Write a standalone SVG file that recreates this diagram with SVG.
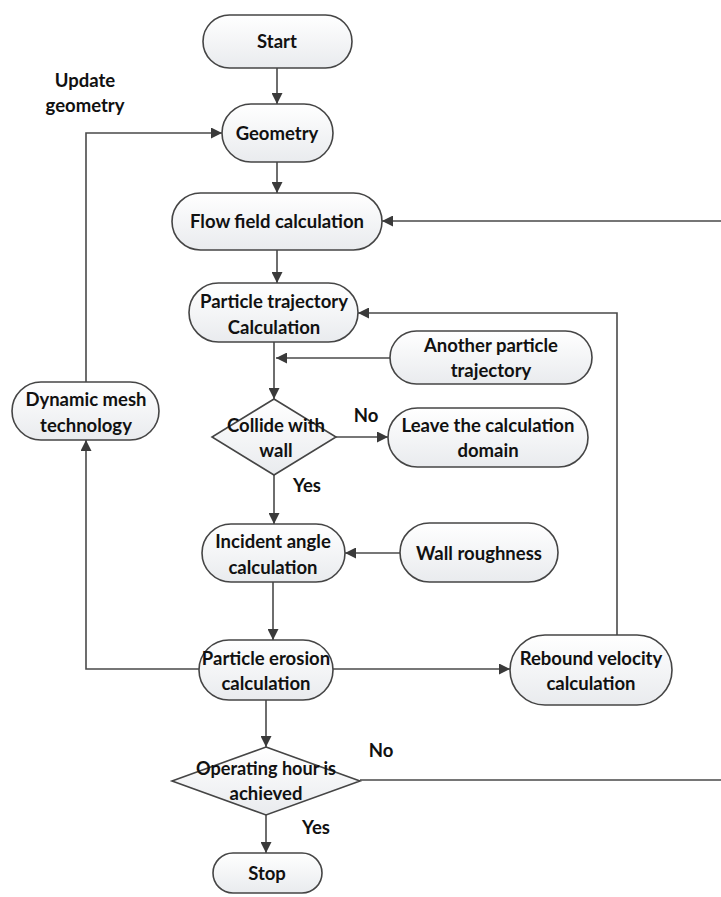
<svg xmlns="http://www.w3.org/2000/svg" width="721" height="897" viewBox="0 0 721 897">
<defs>
<linearGradient id="g" x1="0" y1="0" x2="0" y2="1">
<stop offset="0" stop-color="#ffffff"/>
<stop offset="1" stop-color="#e9ebee"/>
</linearGradient>
<marker id="ah" viewBox="0 0 10 10" refX="10" refY="5" markerWidth="11" markerHeight="11" markerUnits="userSpaceOnUse" orient="auto">
<path d="M0,0 L10,5 L0,10 z" fill="#3a3a3a"/>
</marker>
<style>
.n{fill:url(#g);stroke:#454545;stroke-width:1.6}
.t{font-family:Lato,"Open Sans","Liberation Sans",sans-serif;font-weight:bold;font-size:18.5px;fill:#111;text-anchor:middle}
.c{fill:none;stroke:#4a4a4a;stroke-width:1.6}
.a{marker-end:url(#ah)}
</style>
</defs>
<rect width="721" height="897" fill="#ffffff"/>
<g id="connectors">
<path class="c a" d="M277,68 V104"/>
<path class="c a" d="M277,162 V193"/>
<path class="c a" d="M277,250 V283"/>
<path class="c a" d="M274,342 V399"/>
<path class="c a" d="M390,358 H276"/>
<path class="c a" d="M336,437 H388"/>
<path class="c a" d="M274,475 V524"/>
<path class="c a" d="M400,553 H345"/>
<path class="c a" d="M273,582 V640"/>
<path class="c a" d="M333,669 H510"/>
<path class="c a" d="M617,635 V313 H358"/>
<path class="c a" d="M199,669 H86 V440"/>
<path class="c a" d="M86,382 V133 H222"/>
<path class="c a" d="M266,700 V747"/>
<path class="c a" d="M266,815 V853"/>
<path class="c a" d="M360,780 H723 V221 H382"/>
</g>
<g id="label-update">
<text class="t" x="85" y="87">Update</text>
<text class="t" x="85" y="112">geometry</text>
</g>
<g id="label-no1"><text class="t" x="366" y="422">No</text></g>
<g id="label-yes1"><text class="t" x="307" y="492">Yes</text></g>
<g id="label-no2"><text class="t" x="381" y="757">No</text></g>
<g id="label-yes2"><text class="t" x="316" y="834">Yes</text></g>
<g id="start">
<rect class="n" x="203" y="15" width="149" height="53" rx="26.5"/>
<text class="t" x="277" y="48">Start</text>
</g>
<g id="geometry">
<rect class="n" x="222" y="104" width="111" height="58" rx="29"/>
<text class="t" x="277" y="140">Geometry</text>
</g>
<g id="flow">
<rect class="n" x="172" y="193" width="210" height="57" rx="28.5"/>
<text class="t" x="277" y="228">Flow field calculation</text>
</g>
<g id="trajectory">
<rect class="n" x="189" y="283" width="169" height="59" rx="29.5"/>
<text class="t" x="274" y="308">Particle trajectory</text>
<text class="t" x="274" y="334">Calculation</text>
</g>
<g id="another">
<rect class="n" x="390" y="331" width="202" height="53" rx="26.5"/>
<text class="t" x="491" y="352">Another particle</text>
<text class="t" x="491" y="377">trajectory</text>
</g>
<g id="dynamic">
<rect class="n" x="12" y="382" width="147" height="58" rx="29"/>
<text class="t" x="86" y="406">Dynamic mesh</text>
<text class="t" x="86" y="432">technology</text>
</g>
<g id="collide">
<polygon class="n" points="274,399 336,437 274,475 212,437"/>
<text class="t" x="276" y="432">Collide with</text>
<text class="t" x="276" y="457">wall</text>
</g>
<g id="leave">
<rect class="n" x="388" y="408" width="200" height="59" rx="29.5"/>
<text class="t" x="488" y="432">Leave the calculation</text>
<text class="t" x="488" y="457">domain</text>
</g>
<g id="incident">
<rect class="n" x="202" y="524" width="143" height="58" rx="29"/>
<text class="t" x="273" y="548">Incident angle</text>
<text class="t" x="273" y="574">calculation</text>
</g>
<g id="roughness">
<rect class="n" x="400" y="523" width="158" height="59" rx="29.5"/>
<text class="t" x="479" y="560">Wall roughness</text>
</g>
<g id="erosion">
<rect class="n" x="199" y="640" width="134" height="60" rx="30"/>
<text class="t" x="266" y="665">Particle erosion</text>
<text class="t" x="266" y="690">calculation</text>
</g>
<g id="rebound">
<rect class="n" x="510" y="635" width="162" height="70" rx="35"/>
<text class="t" x="591" y="665">Rebound velocity</text>
<text class="t" x="591" y="690">calculation</text>
</g>
<g id="operating">
<polygon class="n" points="266,747 360,781 266,815 172,781"/>
<text class="t" x="266" y="775" textLength="140" lengthAdjust="spacingAndGlyphs">Operating hour is</text>
<text class="t" x="266" y="800">achieved</text>
</g>
<g id="stop">
<rect class="n" x="213" y="853" width="109" height="40" rx="20"/>
<text class="t" x="267" y="880">Stop</text>
</g>
</svg>
